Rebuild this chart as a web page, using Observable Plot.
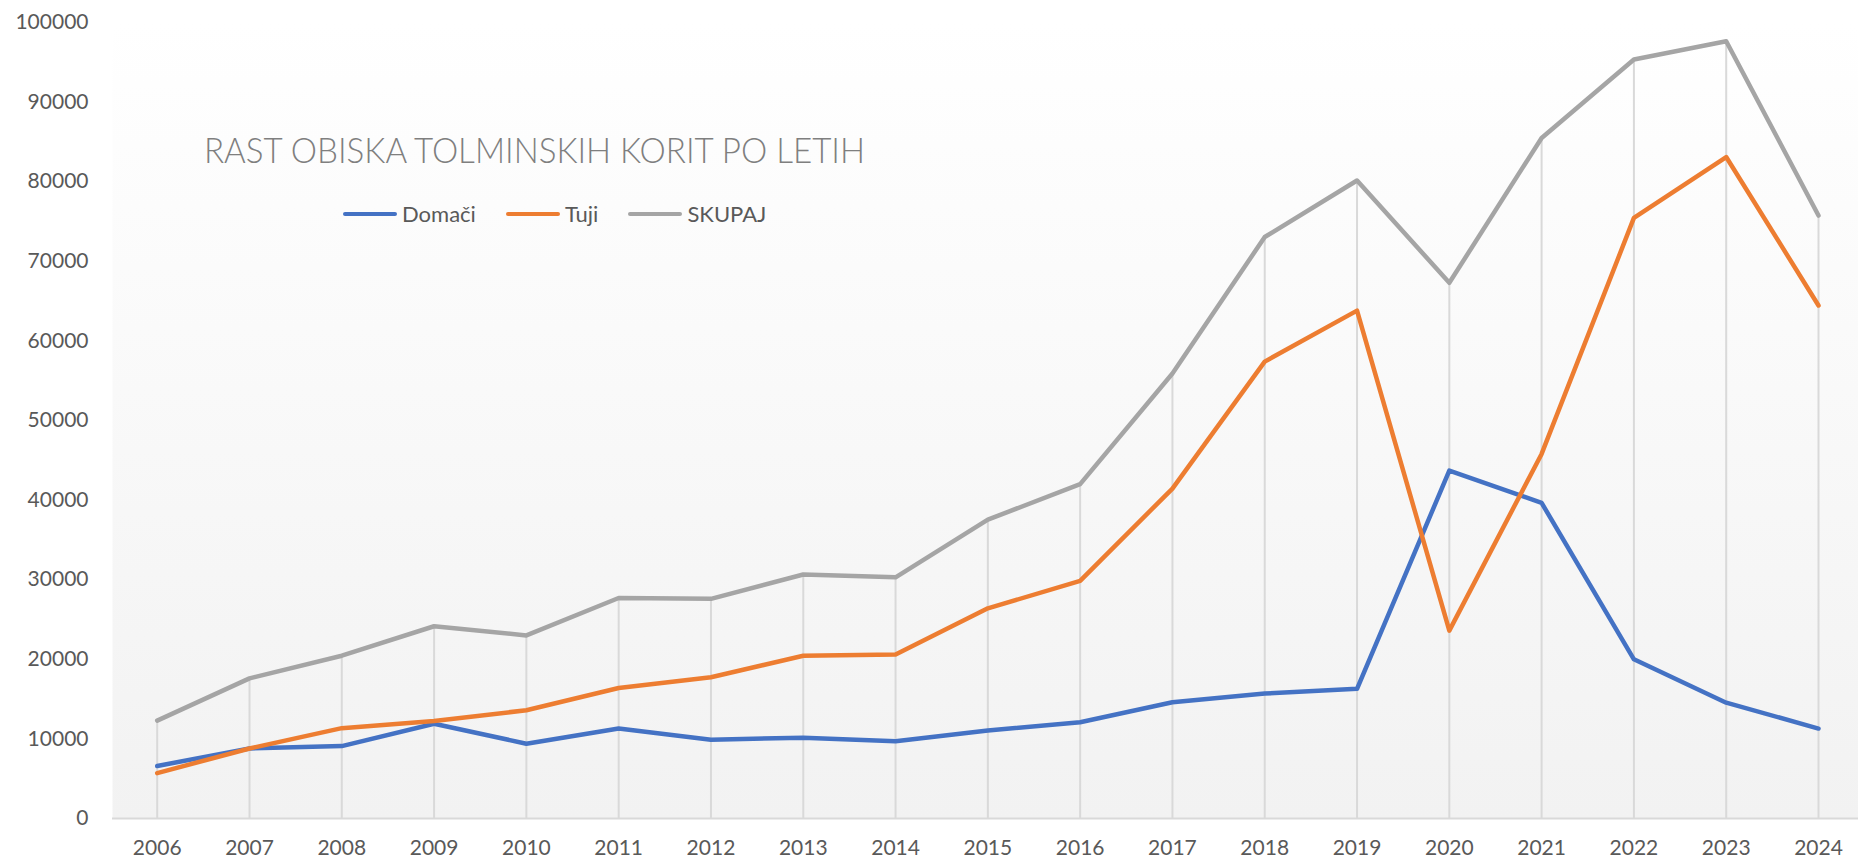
<!DOCTYPE html>
<html>
<head>
<meta charset="utf-8">
<script src="https://cdn.jsdelivr.net/npm/d3@7"></script>
<script src="https://cdn.jsdelivr.net/npm/@observablehq/plot@0.6"></script>
<style>
  html, body { margin: 0; padding: 0; background: #ffffff; }
  #wrap { position: relative; width: 1858px; height: 859px; overflow: hidden; font-family: Lato, "Open Sans", sans-serif; }
  #title { position: absolute; left: 204px; top: 131.6px; font-size: 35px; line-height: 35px; font-weight: 300; color: #7f7f7f; white-space: nowrap; transform-origin: 0 0; }
  #legend { position: absolute; left: 343px; top: 203px; display: flex; align-items: center; font-size: 22px; line-height: 22px; color: #595959; white-space: nowrap; }
  .item { display: flex; align-items: center; margin-right: 30px; }
  .sw { width: 54px; height: 4px; border-radius: 2px; margin-right: 5px; }
</style>
</head>
<body>
<div id="wrap"></div>
<script>
const years = [2006, 2007, 2008, 2009, 2010, 2011, 2012, 2013, 2014, 2015, 2016, 2017, 2018, 2019, 2020, 2021, 2022, 2023, 2024];
const domaci = [6600, 8800, 9100, 11900, 9400, 11300, 9900, 10150, 9700, 11050, 12100, 14600, 15700, 16300, 43700, 39650, 20000, 14550, 11300];
const tuji = [5700, 8800, 11350, 12250, 13600, 16400, 17750, 20450, 20600, 26400, 29850, 41450, 57400, 63800, 23600, 45800, 75450, 83100, 64450];
const skupaj = [12300, 17600, 20450, 24150, 23000, 27700, 27600, 30650, 30300, 37550, 42000, 55900, 73050, 80150, 67300, 85500, 95350, 97650, 75750];
const seriesNames = ["Domači", "Tuji", "SKUPAJ"];
const seriesColors = ["#4472C4", "#ED7D31", "#A5A5A5"];
const yTicks = [0, 10000, 20000, 30000, 40000, 50000, 60000, 70000, 80000, 90000, 100000];
const titleText = "RAST OBISKA TOLMINSKIH KORIT PO LETIH";

const rows = years.map((y, i) => ({year: y, "Domači": domaci[i], "Tuji": tuji[i], "SKUPAJ": skupaj[i]}));

const chart = Plot.plot({
  width: 1858,
  height: 859,
  marginLeft: 112,
  marginRight: 0,
  marginTop: 22,
  marginBottom: 41,
  style: {fontFamily: "Lato, 'Open Sans', sans-serif", fontSize: "21px", color: "#595959", background: "transparent"},
  x: {domain: [2006, 2024], insetLeft: 44.7, insetRight: 40, ticks: years, tickFormat: d => String(d), tickSize: 0, tickPadding: 21.5, label: null},
  y: {domain: [0, 100000], ticks: yTicks, tickFormat: d => String(d), tickSize: 0, tickPadding: 24, label: null},
  marks: [
    Plot.frame({fill: "url(#bgGrad)", stroke: null}),
    Plot.ruleX(rows, {x: "year", y1: 0, y2: "SKUPAJ", stroke: "#d9d9d9", strokeWidth: 2}),
    Plot.ruleY([0], {stroke: "#d9d9d9", strokeWidth: 2}),
    ...seriesNames.map((name, k) => Plot.line(rows, {x: "year", y: name, stroke: seriesColors[k], strokeWidth: 4.5, strokeLinejoin: "round", strokeLinecap: "round"}))
  ]
});

const defs = d3.select(chart).insert("defs", ":first-child");
const grad = defs.append("linearGradient").attr("id", "bgGrad").attr("x1", 0).attr("y1", 0).attr("x2", 0).attr("y2", 1);
grad.append("stop").attr("offset", "0%").attr("stop-color", "#ffffff");
grad.append("stop").attr("offset", "100%").attr("stop-color", "#f2f2f2");

const wrap = document.getElementById("wrap");
wrap.appendChild(chart);

const title = document.createElement("div");
title.id = "title";
title.textContent = titleText;
wrap.appendChild(title);
const tw = title.getBoundingClientRect().width;
title.style.transform = `scaleX(${661 / tw})`;

const legend = document.createElement("div");
legend.id = "legend";
seriesNames.forEach((name, k) => {
  const item = document.createElement("div");
  item.className = "item";
  const sw = document.createElement("div");
  sw.className = "sw";
  sw.style.background = seriesColors[k];
  const lab = document.createElement("span");
  lab.textContent = name;
  item.appendChild(sw);
  item.appendChild(lab);
  legend.appendChild(item);
});
wrap.appendChild(legend);
</script>
</body>
</html>
